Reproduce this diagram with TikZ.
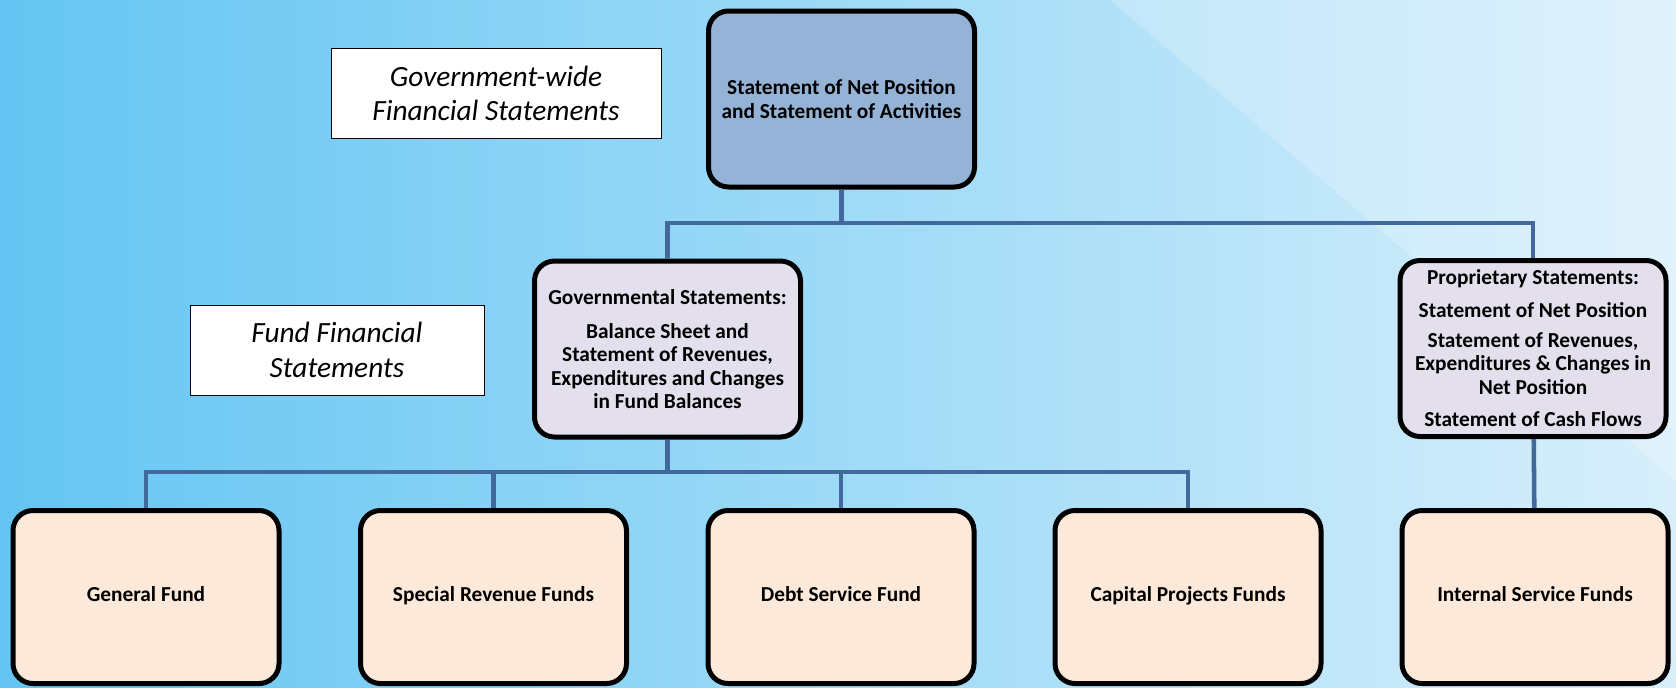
\documentclass[tikz,border=0pt]{standalone}
\usepackage{fontspec}
\setmainfont{Carlito}
\usetikzlibrary{positioning,calc}
\definecolor{linkblue}{HTML}{41699C}
\definecolor{topfill}{HTML}{95B3D7}
\definecolor{midfill}{HTML}{E4DFEC}
\definecolor{fundfill}{HTML}{FDE9D9}
\definecolor{bgleft}{HTML}{64C5F2}
\definecolor{bgmid}{HTML}{C2E6F9}
\definecolor{bgright}{HTML}{D8EFFB}
\tikzset{
	stmt/.style={draw=black, line width=3.75pt, rounded corners=15pt, align=center,
		inner sep=1pt, font=\fontsize{16}{17.5}\selectfont\bfseries,
		minimum width=199.5pt, minimum height=132pt},
	fund/.style={stmt, fill=fundfill, minimum height=129.75pt, text height=1.9ex, text depth=0.4ex},
	caption/.style={draw=black, line width=0.6pt, fill=white, align=center,
		font=\fontsize{22}{26}\selectfont\itshape},
	link/.style={draw=linkblue, line width=3.4pt}
}

\begin{document}
\begin{tikzpicture}[x=0.75pt, y=-0.75pt]
	\useasboundingbox (0,0) rectangle (1676,687);
	\fill[left color=bgleft, middle color=bgmid, right color=bgright] (0,0) rectangle (1676,687);
	\fill[white, opacity=0.22] (1110,0) -- (1676,0) -- (1676,481) -- cycle;

	\node[caption, minimum width=247.5pt, minimum height=68pt] (gwcap) at (496,93.5)
		{Government-wide\\Financial Statements};
	\node[caption, minimum width=220.5pt, minimum height=67.5pt] (ffcap) at (337,350)
		{Fund Financial\\Statements};

	\node[stmt, fill=topfill] (netpos) at (841.5,99)
		{Statement of Net Position\\and Statement of Activities};
	\node[stmt, fill=midfill] (govt) at (667.5,349)
		{Governmental Statements:\\[8pt]Balance Sheet and\\Statement of Revenues,\\Expenditures and Changes\\in Fund Balances};
	\node[stmt, fill=midfill] (prop) at (1533,348.5)
		{Proprietary Statements:\\[7pt]Statement of Net Position\\[5pt]Statement of Revenues,\\Expenditures \& Changes in\\Net Position\\[7pt]Statement of Cash Flows};

	\node[fund] (general) at (146,597) {General Fund};
	\node[fund] (special) at (493.5,597) {Special Revenue Funds};
	\node[fund] (debt) at (841,597) {Debt Service Fund};
	\node[fund] (capital) at (1188,597) {Capital Projects Funds};
	\node[fund] (internal) at (1535,597) {Internal Service Funds};

	\coordinate (topbus) at (841.5,223);
	\coordinate (fundbus) at (667.5,472);

	\draw[link] (netpos) to (topbus);
	\draw[link] (govt.north) |- (topbus) -| (prop.north);
	\draw[link] (govt) to (fundbus);
	\draw[link] (general.north) |- (fundbus) -| (capital.north);
	\draw[link] (special.north) to (special.north |- fundbus);
	\draw[link] (debt.north) to (debt.north |- fundbus);
	\draw[link] (prop) to (internal);
\end{tikzpicture}
\end{document}
